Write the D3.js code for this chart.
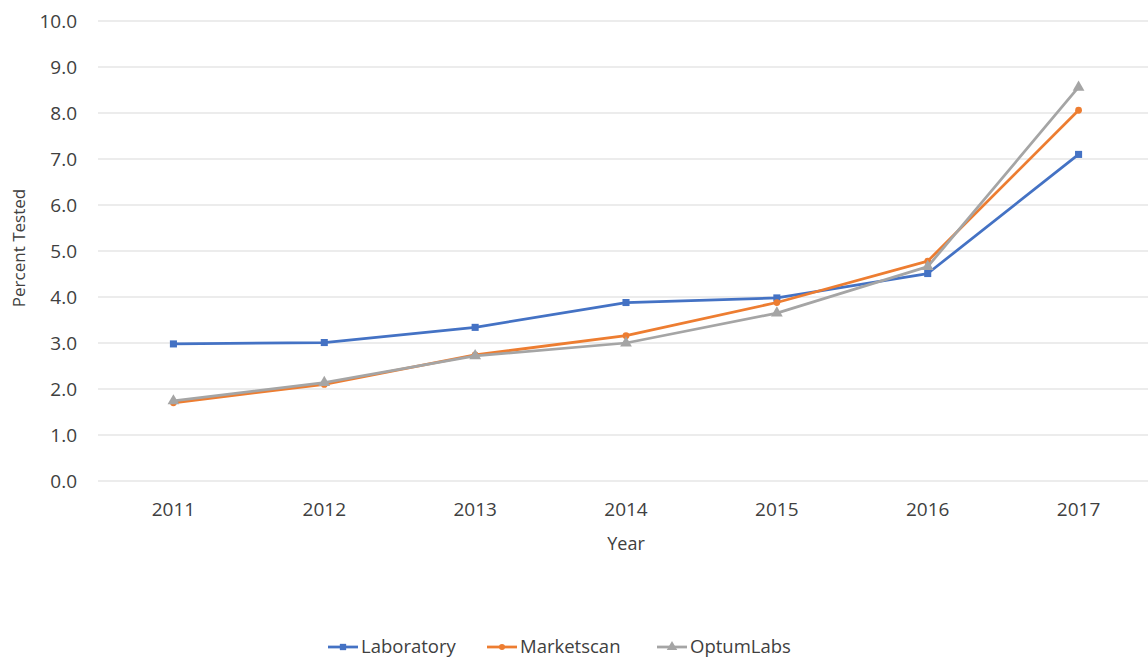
<!DOCTYPE html>
<html><head><meta charset="utf-8">
<script src="https://cdn.jsdelivr.net/npm/d3@7"></script>
<style>body{margin:0;background:#fff;} text{font-family:"Open Sans",sans-serif;}</style>
</head><body>
<svg id="c" width="1148" height="659"></svg>
<script>
const years = ["2011","2012","2013","2014","2015","2016","2017"];
const laboratory = [2.98, 3.01, 3.34, 3.88, 3.98, 4.51, 7.10];
const marketscan = [1.70, 2.10, 2.74, 3.16, 3.88, 4.78, 8.06];
const optumlabs  = [1.74, 2.14, 2.72, 3.00, 3.65, 4.66, 8.56];
const yTicks = [0,1,2,3,4,5,6,7,8,9,10];
const seriesNames = ["Laboratory","Marketscan","OptumLabs"];
const colors = ["#4472C4","#ED7D31","#A5A5A5"];
const symbols = [d3.symbolSquare, d3.symbolCircle, d3.symbolTriangle];

(function(){
const svg = d3.select("#c");
const pL = 98, pR = 1154, pT = 21, pB = 481;
const x = d3.scaleBand().domain(years).range([pL, pR]);
const y = d3.scaleLinear().domain([0,10]).range([pB, pT]);

svg.append("g").selectAll("line").data(yTicks).join("line")
  .attr("x1", pL).attr("x2", pR)
  .attr("y1", d=>y(d)).attr("y2", d=>y(d))
  .attr("stroke", "#d9d9d9").attr("stroke-width", 1);

const ya = svg.append("g").attr("transform", `translate(${pL},0)`)
  .call(d3.axisLeft(y).tickValues(yTicks).tickFormat(d3.format(".1f")).tickSize(0).tickPadding(21));
ya.select(".domain").remove();
ya.selectAll("text").attr("fill","#404040").style("font-size","19px").style("font-family","'Open Sans',sans-serif");

const xa = svg.append("g").attr("transform", `translate(0,${pB})`)
  .call(d3.axisBottom(x).tickSize(0).tickPadding(22));
xa.select(".domain").remove();
xa.selectAll("text").attr("fill","#404040").style("font-size","19px").style("font-family","'Open Sans',sans-serif");

svg.append("text").attr("x", 626).attr("y", 550).attr("text-anchor","middle")
  .attr("fill","#404040").style("font-size","18px").text("Year");
svg.append("text").attr("transform","translate(25,248) rotate(-90)").attr("text-anchor","middle")
  .attr("fill","#404040").style("font-size","17px").text("Percent Tested");

const data = [laboratory, marketscan, optumlabs];
const line = d3.line().x((d,i)=>x(years[i]) + x.bandwidth()/2).y(d=>y(d));
const symSizes = [50, 36, 60];

data.forEach((vals, si) => {
  svg.append("path").datum(vals).attr("d", line)
    .attr("fill","none").attr("stroke", colors[si]).attr("stroke-width", 2.75)
    .attr("stroke-linejoin","round");
  svg.append("g").selectAll("path").data(vals).join("path")
    .attr("transform", (d,i)=>`translate(${x(years[i]) + x.bandwidth()/2},${y(d)})`)
    .attr("d", d3.symbol().type(symbols[si]).size(symSizes[si]))
    .attr("fill", colors[si]);
});

const legX = [328, 487, 657];
seriesNames.forEach((n, i) => {
  const g = svg.append("g").attr("transform", `translate(${legX[i]},647)`);
  g.append("line").attr("x1",0).attr("x2",30).attr("y1",0).attr("y2",0)
    .attr("stroke", colors[i]).attr("stroke-width", 2.75);
  g.append("path").attr("transform","translate(15,0)")
    .attr("d", d3.symbol().type(symbols[i]).size(symSizes[i]*0.8)).attr("fill", colors[i]);
  g.append("text").attr("x", 33).attr("y", 0).attr("dy","0.35em")
    .attr("fill","#404040").style("font-size","18.5px").text(n);
});
})();
</script>
</body></html>
